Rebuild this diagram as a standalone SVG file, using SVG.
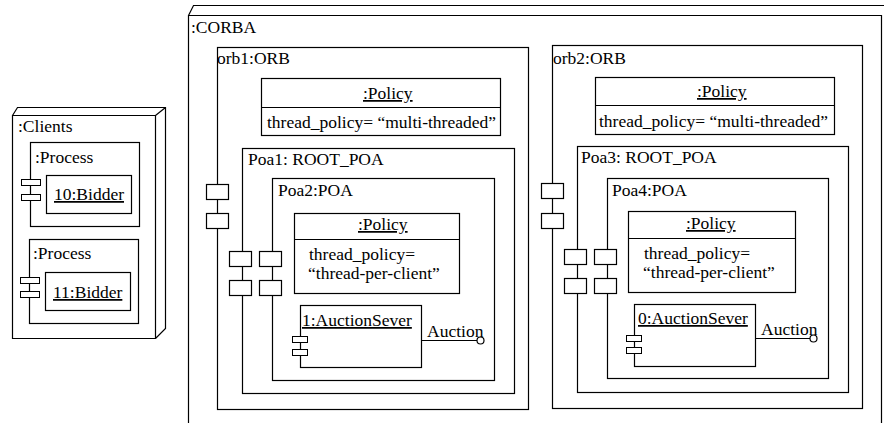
<svg xmlns="http://www.w3.org/2000/svg" width="884" height="423" viewBox="0 0 884 423" font-family="'Liberation Serif', 'DejaVu Serif', 'Times New Roman', Times, serif">
  <style>
    .box { fill: none; stroke: #000; stroke-width: 1.2; }
    .port { fill: #fff; stroke: #000; stroke-width: 1.2; }
    .icon { fill: #fff; stroke: #000; stroke-width: 1; }
    .wire { fill: none; stroke: #000; stroke-width: 1.2; }
    .t { font-family: 'Liberation Serif', 'DejaVu Serif', 'Times New Roman', Times, serif; font-size: 17.5px; fill: #000; }
    .u { text-decoration: underline; }
  </style>
  <rect width="884" height="423" fill="#fff"/>

  <!-- Client node (3D box) -->
  <g id="clients">
    <path class="box" d="M12.5 115.5 H155.5 V338.5 H12.5 Z M12.5 115.5 L17.5 107.5 H165.5 V328.5 L155.5 338.5 M155.5 115.5 L165.5 107.5"/>
    <text class="t" x="18" y="132">:Clients</text>
  </g>
  <g id="process1">
    <rect class="box" x="30.5" y="142.5" width="109" height="84"/>
    <text class="t" x="35" y="163">:Process</text>
    <rect class="icon" x="21.5" y="179.5" width="19" height="6"/>
    <rect class="icon" x="21.5" y="194.5" width="19" height="6"/>
  </g>
  <g id="bidder10">
    <rect class="box" x="46.5" y="175.5" width="85" height="38"/>
    <text class="t u" x="54" y="200">10:Bidder</text>
  </g>
  <g id="process2">
    <rect class="box" x="29.5" y="239.5" width="109" height="84"/>
    <text class="t" x="33" y="259">:Process</text>
    <rect class="icon" x="20.5" y="277.5" width="19" height="6"/>
    <rect class="icon" x="20.5" y="291.5" width="19" height="6"/>
  </g>
  <g id="bidder11">
    <rect class="box" x="45.5" y="272.5" width="85" height="38"/>
    <text class="t u" x="53" y="298">11:Bidder</text>
  </g>

  <!-- CORBA node (3D box, runs past the frame) -->
  <g id="corba">
    <path class="box" d="M188.5 423 V15.5 H881.5 V423 M188.5 15.5 L193.5 5.5 H884"/>
    <text class="t" x="191" y="33">:CORBA</text>
  </g>

  <!-- orb1 -->
  <g id="orb1">
    <rect class="box" x="217.5" y="47.5" width="311" height="362"/>
    <text class="t" x="217" y="64">orb1:ORB</text>
    <rect class="port" x="206.5" y="184.5" width="22" height="15"/>
    <rect class="port" x="206.5" y="213.5" width="22" height="15"/>
  </g>
  <g id="policy1">
    <rect class="box" x="261.5" y="78.5" width="239" height="57"/>
    <line class="box" x1="261.5" y1="107.5" x2="500.5" y2="107.5"/>
    <text class="t u" x="363" y="99">:Policy</text>
    <text class="t" x="267" y="128">thread_policy= “multi-threaded”</text>
  </g>
  <g id="poa1">
    <rect class="box" x="242.5" y="148.5" width="272" height="245"/>
    <text class="t" x="248" y="165">Poa1: ROOT_POA</text>
    <rect class="port" x="229.5" y="251.5" width="22" height="15"/>
    <rect class="port" x="229.5" y="280.5" width="22" height="15"/>
  </g>
  <g id="poa2">
    <rect class="box" x="272.5" y="178.5" width="222" height="202"/>
    <text class="t" x="278" y="196">Poa2:POA</text>
    <rect class="port" x="259.5" y="251.5" width="22" height="15"/>
    <rect class="port" x="259.5" y="280.5" width="22" height="15"/>
  </g>
  <g id="policy2">
    <rect class="box" x="294.5" y="213.5" width="165" height="80"/>
    <line class="box" x1="294.5" y1="239.5" x2="459.5" y2="239.5"/>
    <text class="t u" x="358" y="230">:Policy</text>
    <text class="t" x="309" y="260">thread_policy=</text>
    <text class="t" x="308" y="279">“thread-per-client”</text>
  </g>
  <g id="server1">
    <rect class="box" x="300.5" y="305.5" width="121" height="62"/>
    <text class="t u" x="302" y="326">1:AuctionSever</text>
    <rect class="icon" x="292.5" y="336.5" width="15" height="6"/>
    <rect class="icon" x="292.5" y="349.5" width="15" height="6"/>
  </g>

  <!-- orb2 -->
  <g id="orb2">
    <rect class="box" x="552.5" y="45.5" width="310" height="363"/>
    <text class="t" x="553" y="64">orb2:ORB</text>
    <rect class="port" x="541.5" y="183.5" width="22" height="15"/>
    <rect class="port" x="541.5" y="213.5" width="22" height="15"/>
  </g>
  <g id="policy3">
    <rect class="box" x="595.5" y="77.5" width="239" height="57"/>
    <line class="box" x1="595.5" y1="105.5" x2="834.5" y2="105.5"/>
    <text class="t u" x="697" y="97">:Policy</text>
    <text class="t" x="599" y="127">thread_policy= “multi-threaded”</text>
  </g>
  <g id="poa3">
    <rect class="box" x="577.5" y="146.5" width="271" height="246"/>
    <text class="t" x="581" y="163">Poa3: ROOT_POA</text>
    <rect class="port" x="564.5" y="249.5" width="22" height="15"/>
    <rect class="port" x="564.5" y="278.5" width="22" height="15"/>
  </g>
  <g id="poa4">
    <rect class="box" x="607.5" y="178.5" width="221" height="200"/>
    <text class="t" x="612" y="196">Poa4:POA</text>
    <rect class="port" x="594.5" y="249.5" width="22" height="15"/>
    <rect class="port" x="594.5" y="278.5" width="22" height="15"/>
  </g>
  <g id="policy4">
    <rect class="box" x="628.5" y="211.5" width="167" height="81"/>
    <line class="box" x1="628.5" y1="238.5" x2="795.5" y2="238.5"/>
    <text class="t u" x="686" y="229">:Policy</text>
    <text class="t" x="644" y="259">thread_policy=</text>
    <text class="t" x="643" y="278">“thread-per-client”</text>
  </g>
  <g id="server0">
    <rect class="box" x="634.5" y="304.5" width="121" height="62"/>
    <text class="t u" x="638" y="324">0:AuctionSever</text>
    <rect class="icon" x="626.5" y="335.5" width="15" height="6"/>
    <rect class="icon" x="626.5" y="347.5" width="15" height="6"/>
  </g>

  <!-- Provided "Auction" interfaces (lollipops) -->
  <g id="connectors">
    <line class="wire" x1="421.5" y1="340.5" x2="477" y2="340.5"/>
    <circle class="port" cx="480.5" cy="340.5" r="3.5"/>
    <text class="t" x="427" y="337">Auction</text>
    <line class="wire" x1="755.5" y1="338.5" x2="810" y2="338.5"/>
    <circle class="port" cx="813.5" cy="338.5" r="3.5"/>
    <text class="t" x="761" y="335">Auction</text>
  </g>
</svg>
